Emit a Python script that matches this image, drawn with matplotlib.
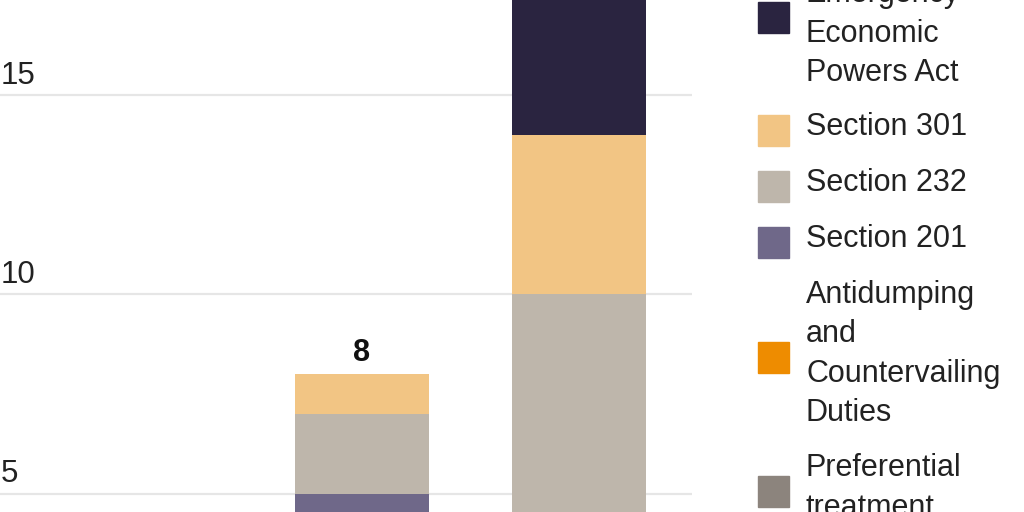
import matplotlib
matplotlib.use("Agg")
import matplotlib.pyplot as plt
from matplotlib.patches import Rectangle
from matplotlib.transforms import blended_transform_factory

plt.rcParams['font.family'] = ['Liberation Sans', 'DejaVu Sans']

# ---- data ----
categories = ["A", "B", "C"]
series_names = [
    "Preferential treatment",
    "Antidumping and Countervailing Duties",
    "Section 201",
    "Section 232",
    "Section 301",
    "International Emergency Economic Powers Act",
]
preferential = [1, 1, 1]
ad_cvd = [2, 2, 2]
section_201 = [0, 2, 0]
section_232 = [0, 2, 7]
section_301 = [0, 1, 4]
ieepa = [0, 0, 5]
series_values = [preferential, ad_cvd, section_201, section_232, section_301, ieepa]
colors = ["#8c847d", "#ee8c00", "#6f6889", "#beb6ab", "#f2c584", "#2a2440"]
yticks = [5, 10, 15]
ytick_labels = ["5", "10", "15"]
total_labels = [str(sum(v[i] for v in series_values)) for i in range(len(categories))]

# legend (top to bottom) with line breaks as in reference
legend_lines = [
    ["International", "Emergency", "Economic", "Powers Act"],
    ["Section 301"],
    ["Section 232"],
    ["Section 201"],
    ["Antidumping", "and", "Countervailing", "Duties"],
    ["Preferential", "treatment"],
]
legend_colors = colors[::-1]

W, H = 1024, 512
fig = plt.figure(figsize=(W / 100, H / 100), dpi=100)
ax = fig.add_axes([0, 0, 692 / W, 1])
ax.set_xlim(-0.668, 2.521)
ax.set_ylim(4.538, 17.386)
for s in ax.spines.values():
    s.set_visible(False)
ax.set_xticks([])
ax.set_yticks(yticks)
ax.tick_params(left=False, labelleft=False)
ax.grid(axis='y', color='#e6e6e6', linewidth=1.6)
ax.set_axisbelow(True)

x = list(range(len(categories)))
bottom = [0] * len(categories)
for vals, c, name in zip(series_values, colors, series_names):
    ax.bar(x, vals, bottom=bottom, width=0.617, color=c, label=name, zorder=2)
    bottom = [b + v for b, v in zip(bottom, vals)]

for xi, tot, lab in zip(x, bottom, total_labels):
    t = ax.annotate(lab, (xi, tot), xytext=(0, 9.5), textcoords='offset points',
                    ha='center', va='baseline', fontsize=22, fontweight='bold',
                    color='#111111', annotation_clip=True)
    t.set_clip_on(True)

trans = blended_transform_factory(ax.transAxes, ax.transData)
for v, lab in zip(yticks, ytick_labels):
    ax.annotate(lab, (0.0, v), xycoords=trans, xytext=(0.5, 8), textcoords='offset points',
                ha='left', va='baseline', fontsize=22.5, color='#222222')

# manual legend in pixel coordinates (y from top)
sq_centers = [17, 130, 186, 242, 357, 491]
sq_x, sq_size = 758, 31
text_x = 806
line_step = 39.3
for lines, c, yc in zip(legend_lines, legend_colors, sq_centers):
    fig.patches.append(Rectangle((sq_x / W, (H - yc - sq_size / 2) / H), sq_size / W, sq_size / H,
                                 transform=fig.transFigure, color=c, figure=fig))
    n = len(lines)
    for i, ln in enumerate(lines):
        capc = yc - 6 + (i - (n - 1) / 2) * line_step
        base = capc + 11
        fig.text(text_x / W, (H - base) / H, ln, ha='left', va='baseline',
                 fontsize=22, color='#222222')

fig.savefig("out.png", dpi=100)
